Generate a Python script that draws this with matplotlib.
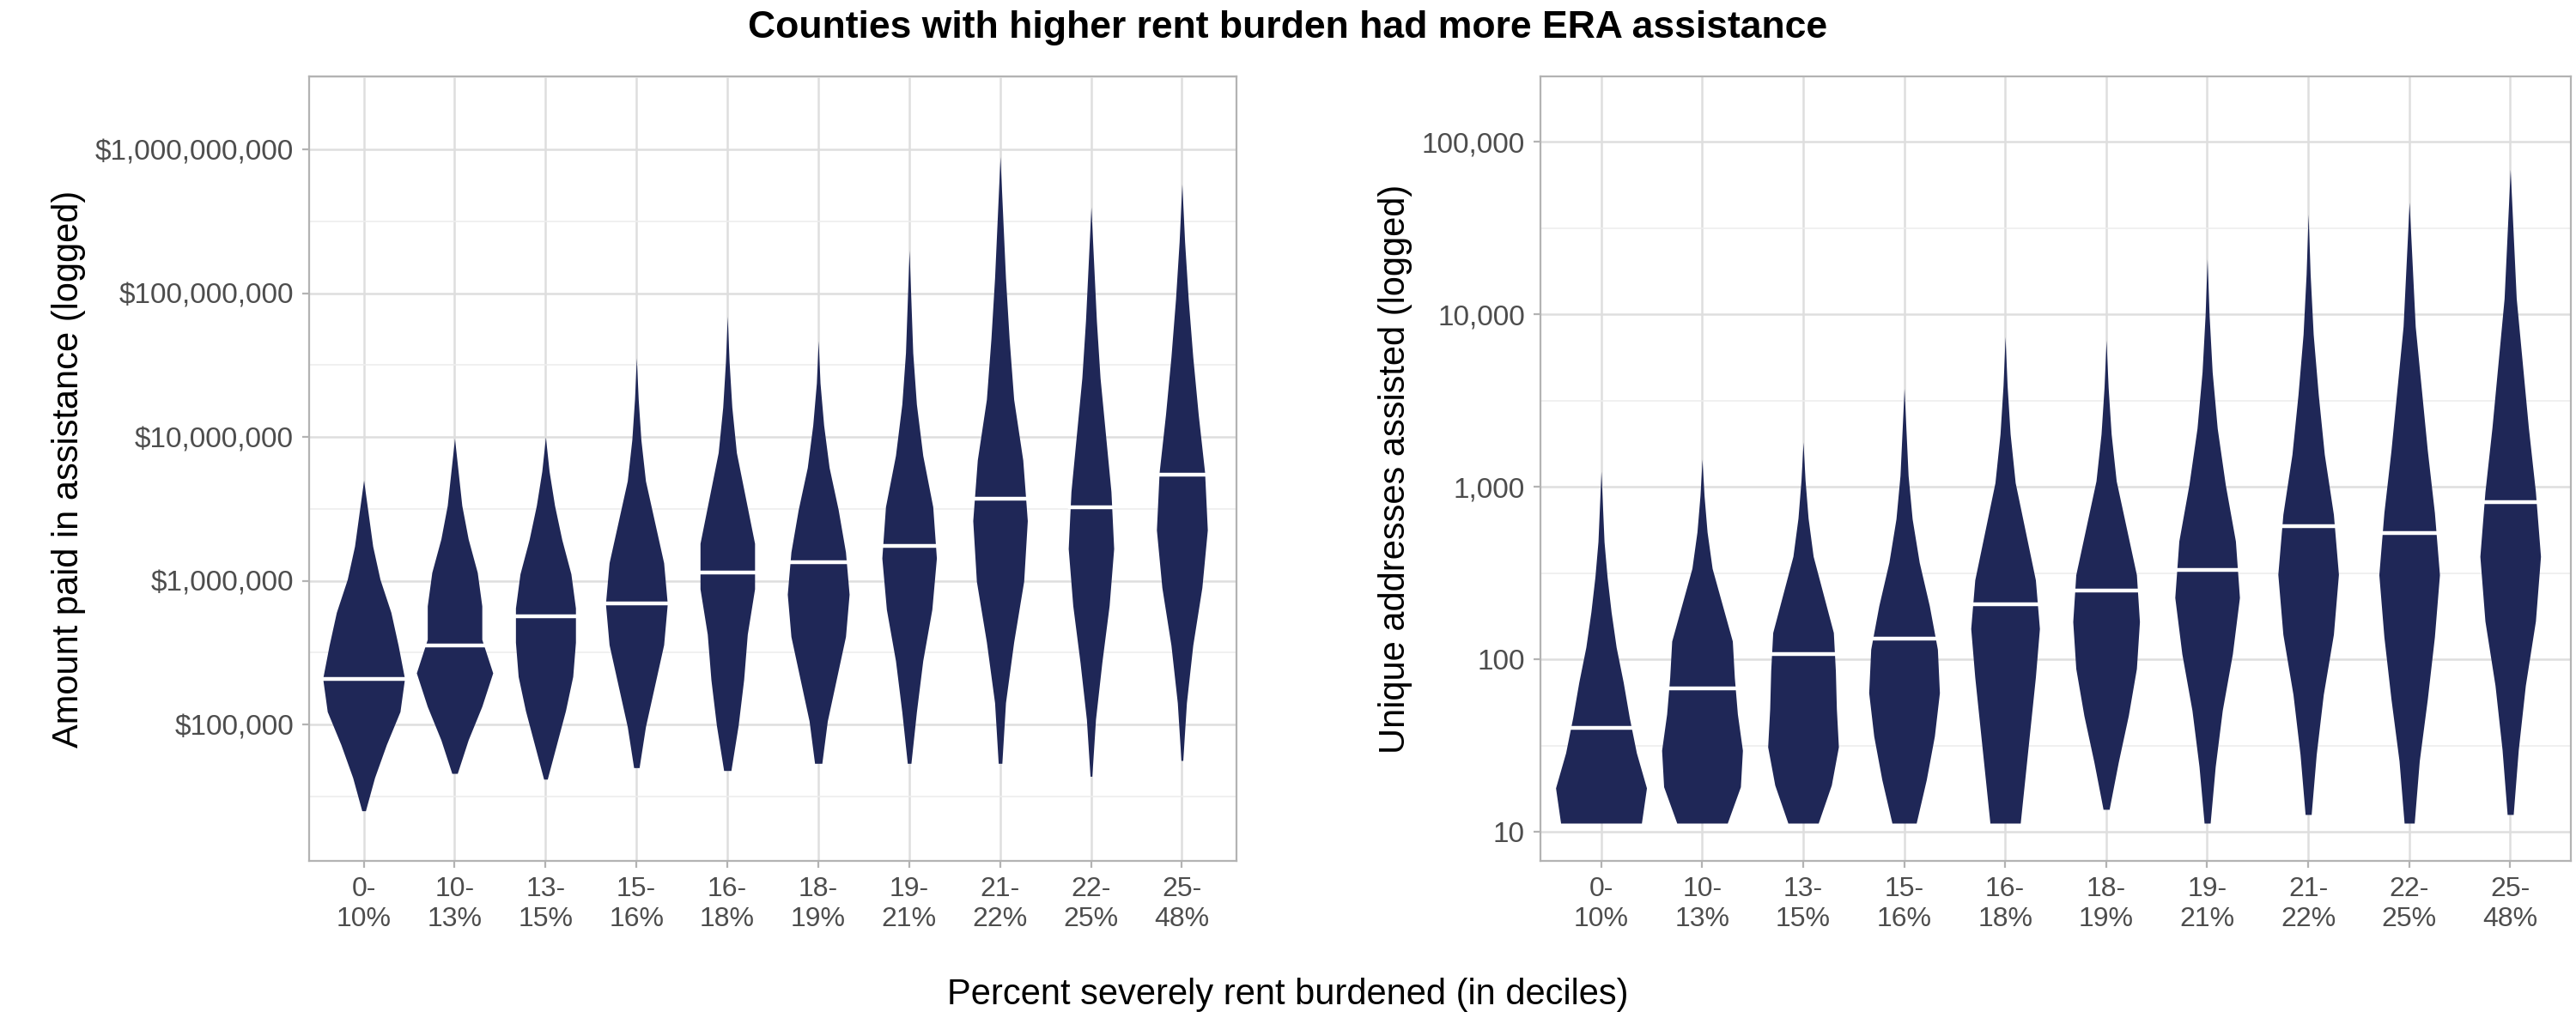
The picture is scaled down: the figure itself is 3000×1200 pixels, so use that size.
import numpy as np
import matplotlib.pyplot as plt
from matplotlib.ticker import FixedLocator, NullFormatter

plt.rcParams['font.family'] = ['Liberation Sans', 'DejaVu Sans']

deciles = ['0-\n10%', '10-\n13%', '13-\n15%', '15-\n16%', '16-\n18%',
           '18-\n19%', '19-\n21%', '21-\n22%', '22-\n25%', '25-\n48%']

# log10 ranges and medians
amt_lo = [4.40, 4.66, 4.62, 4.70, 4.68, 4.73, 4.73, 4.73, 4.64, 4.75]
amt_hi = [6.70, 6.99, 7.00, 7.55, 7.84, 7.67, 8.30, 8.95, 8.60, 8.76]
amt_med = [5.32, 5.55, 5.75, 5.84, 6.06, 6.13, 6.24, 6.57, 6.51, 6.74]
# half widths at 11 evenly spaced levels from lo to hi
amt_w = [
    [0.02, 0.12, 0.25, 0.40, 0.45, 0.38, 0.30, 0.18, 0.10, 0.05, 0],
    [0.03, 0.15, 0.30, 0.42, 0.30, 0.30, 0.25, 0.15, 0.08, 0.04, 0],
    [0.02, 0.12, 0.22, 0.30, 0.33, 0.33, 0.28, 0.18, 0.10, 0.04, 0],
    [0.03, 0.10, 0.20, 0.30, 0.34, 0.30, 0.20, 0.10, 0.05, 0.02, 0],
    [0.04, 0.12, 0.18, 0.22, 0.30, 0.30, 0.20, 0.10, 0.05, 0.02, 0],
    [0.04, 0.10, 0.20, 0.30, 0.34, 0.30, 0.22, 0.12, 0.06, 0.02, 0],
    [0.02, 0.08, 0.15, 0.25, 0.30, 0.26, 0.15, 0.08, 0.04, 0.02, 0],
    [0.02, 0.06, 0.15, 0.26, 0.30, 0.25, 0.15, 0.10, 0.06, 0.03, 0],
    [0.01, 0.05, 0.12, 0.20, 0.25, 0.22, 0.16, 0.10, 0.06, 0.03, 0],
    [0.01, 0.05, 0.12, 0.22, 0.28, 0.25, 0.18, 0.12, 0.07, 0.03, 0],
]

addr_lo = [1.05, 1.05, 1.05, 1.05, 1.05, 1.13, 1.05, 1.10, 1.05, 1.10]
addr_hi = [3.09, 3.16, 3.26, 3.57, 3.87, 3.85, 4.32, 4.58, 4.65, 4.84]
addr_med = [1.60, 1.83, 2.03, 2.12, 2.32, 2.40, 2.52, 2.77, 2.73, 2.91]
addr_w = [
    [0.40, 0.45, 0.35, 0.28, 0.22, 0.15, 0.10, 0.06, 0.03, 0.015, 0],
    [0.25, 0.38, 0.40, 0.35, 0.32, 0.30, 0.20, 0.10, 0.05, 0.02, 0],
    [0.15, 0.28, 0.35, 0.33, 0.32, 0.30, 0.20, 0.10, 0.05, 0.02, 0],
    [0.12, 0.22, 0.30, 0.35, 0.33, 0.25, 0.15, 0.08, 0.04, 0.02, 0],
    [0.15, 0.20, 0.25, 0.30, 0.34, 0.30, 0.20, 0.10, 0.05, 0.02, 0],
    [0.03, 0.12, 0.22, 0.30, 0.33, 0.30, 0.20, 0.10, 0.05, 0.02, 0],
    [0.03, 0.08, 0.15, 0.25, 0.32, 0.28, 0.18, 0.10, 0.05, 0.02, 0],
    [0.03, 0.08, 0.15, 0.25, 0.30, 0.25, 0.16, 0.10, 0.05, 0.02, 0],
    [0.05, 0.10, 0.18, 0.25, 0.30, 0.25, 0.18, 0.12, 0.06, 0.03, 0],
    [0.03, 0.08, 0.15, 0.25, 0.30, 0.25, 0.18, 0.12, 0.06, 0.03, 0],
]

NAVY = '#1f2757'


def draw(ax, lo, hi, med, widths, ticks, labels, ylim, ylabel):
    for i in range(len(lo)):
        x = i + 1
        lv = np.linspace(lo[i], hi[i], len(widths[i]))
        w = np.array(widths[i])
        ax.fill_betweenx(lv, x - w, x + w, color=NAVY, lw=0, zorder=3)
        mw = np.interp(med[i], lv, w)
        ax.plot([x - mw, x + mw], [med[i]] * 2, color='white', lw=1.6, zorder=4)
    ax.set_xlim(0.4, len(lo) + 0.6)
    ax.set_ylim(*ylim)
    ax.set_xticks(range(1, len(lo) + 1))
    ax.set_xticklabels(deciles, fontsize=11.5, color='#4d4d4d')
    ax.set_yticks(ticks)
    ax.set_yticklabels(labels, fontsize=12, color='#4d4d4d')
    minors = [t + 0.5 for t in ticks] + [ticks[0] - 0.5]
    ax.yaxis.set_minor_locator(FixedLocator(minors))
    ax.yaxis.set_minor_formatter(NullFormatter())
    ax.grid(True, which='major', color='#dedede', lw=0.9)
    ax.grid(True, which='minor', axis='y', color='#ededed', lw=0.6)
    ax.tick_params(which='both', length=3, color='#b3b3b3')
    ax.tick_params(which='minor', length=0)
    for s in ax.spines.values():
        s.set_color('#b3b3b3')
    ax.set_axisbelow(True)
    ax.set_ylabel(ylabel, fontsize=15)


fig = plt.figure(figsize=(15, 6), dpi=200)
ax1 = fig.add_axes([0.12, 0.164, 0.36, 0.762])
ax2 = fig.add_axes([0.598, 0.164, 0.400, 0.762])

draw(ax1, amt_lo, amt_hi, amt_med, amt_w, [5, 6, 7, 8, 9],
     ['$100,000', '$1,000,000', '$10,000,000', '$100,000,000', '$1,000,000,000'],
     (4.05, 9.51), 'Amount paid in assistance (logged)')
draw(ax2, addr_lo, addr_hi, addr_med, addr_w, [1, 2, 3, 4, 5],
     ['10', '100', '1,000', '10,000', '100,000'],
     (0.83, 5.38), 'Unique addresses assisted (logged)')

fig.suptitle('Counties with higher rent burden had more ERA assistance',
             fontsize=16, fontweight='bold', y=0.99)
fig.text(0.5, 0.025, 'Percent severely rent burdened (in deciles)', ha='center', fontsize=15)

fig.savefig('out.png', dpi=200)
